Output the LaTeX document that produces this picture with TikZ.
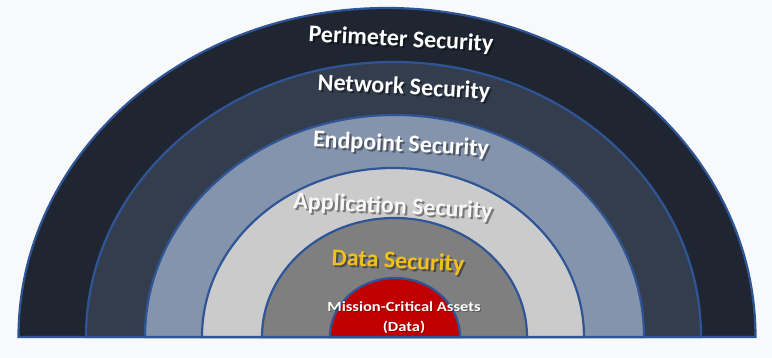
\documentclass[tikz,border=0pt]{standalone}
\usepackage{fontspec}
\setmainfont{Carlito}
\begin{document}
\begin{tikzpicture}[x=1pt,y=1pt,
  ring/.style={draw=ringblue, line width=2.2pt},
  lab/.style={text=white, font=\bfseries\fontsize{24}{26}\selectfont, rotate=-3, inner sep=0pt},
  shad/.style={text=black, opacity=0.4, font=\bfseries\fontsize{24}{26}\selectfont, rotate=-3, inner sep=0pt},
  core/.style={text=white, font=\bfseries\fontsize{14}{15}\selectfont, inner sep=0pt, xscale=1.18},
  coreshad/.style={text=black, opacity=0.3, font=\bfseries\fontsize{14}{15}\selectfont, inner sep=0pt, xscale=1.18}]
\definecolor{ringblue}{HTML}{2F5597}
\definecolor{cOuter}{HTML}{1F2631}
\definecolor{cNet}{HTML}{333D4E}
\definecolor{cEnd}{HTML}{8594AD}
\definecolor{cApp}{HTML}{CBCBCB}
\definecolor{cData}{HTML}{7F7F7F}
\definecolor{cCore}{HTML}{C00000}
\definecolor{cGold}{HTML}{F2C01A}
\definecolor{bg}{HTML}{F8F9FB}
\useasboundingbox (0,0) rectangle (772,358);
\fill[bg] (0,0) rectangle (772,358);
% rings, outer to inner
\draw[ring, fill=cOuter] (18.5,21) arc[start angle=180, end angle=0, x radius=368.5, y radius=329] -- cycle;
\draw[ring, fill=cNet]   (86,21) arc[start angle=180, end angle=0, x radius=307.5, y radius=275] -- cycle;
\draw[ring, fill=cEnd]   (145,21) arc[start angle=180, end angle=0, x radius=249.5, y radius=222] -- cycle;
\draw[ring, fill=cApp]   (202,21) arc[start angle=180, end angle=0, x radius=191, y radius=169] -- cycle;
\draw[ring, fill=cData]  (262,21) arc[start angle=180, end angle=0, x radius=132.5, y radius=119] -- cycle;
\draw[ring, fill=cCore]  (330,21) arc[start angle=180, end angle=0, x radius=65, y radius=59] -- cycle;
\coordinate (bl) at (18,21);
\coordinate (br) at (755,21);
\draw[ringblue, line width=2.5pt] (bl) -- (br);
% labels with soft shadow
\node[shad] (s1) at (403,316) {Perimeter Security};
\node[lab]  (t1) at (401,318) {Perimeter Security};
\node[shad] (s2) at (406,268) {Network Security};
\node[lab]  (t2) at (404,270) {Network Security};
\node[shad] (s3) at (403,211) {Endpoint Security};
\node[lab]  (t3) at (401,213) {Endpoint Security};
\node[shad] (s4) at (395,149) {Application Security};
\node[lab, text=white!97!black] (t4) at (393,151) {Application Security};
\node[shad] (s5) at (400,94) {Data Security};
\node[lab, text=cGold] (t5) at (398,96) {Data Security};
\node[coreshad] (s6) at (405,50) {Mission-Critical Assets};
\node[core] (t6) at (404,51) {Mission-Critical Assets};
\node[coreshad] (s7) at (405,30) {(Data)};
\node[core] (t7) at (404,31) {(Data)};
\end{tikzpicture}
\end{document}
